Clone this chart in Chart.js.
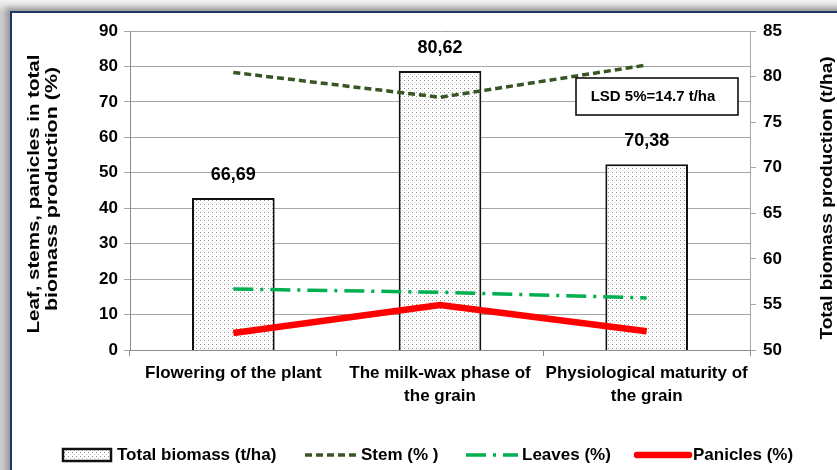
<!DOCTYPE html>
<html>
<head>
<meta charset="utf-8">
<script src="https://cdn.jsdelivr.net/npm/chart.js@4.4.1/dist/chart.umd.min.js"></script>
<style>
  html, body { margin: 0; padding: 0; }
  body { width: 837px; height: 470px; overflow: hidden; position: relative;
         background: linear-gradient(to bottom, #f4f4f4, #cccccc 12px); }
  #frame { position: absolute; left: 10px; top: 11px; width: 900px; height: 520px;
           background: #fff; border-left: 2px solid #1f3864; border-top: 2px solid #1f3864;
           box-shadow: -4px -3px 5px #9a9a9a; }
  #chart-biomass { position: absolute; left: 0; top: 0; }
</style>
</head>
<body>
<div id="frame"></div>
<canvas id="chart-biomass" width="837" height="470"></canvas>
<script>
// data
const phases = ['Flowering of the plant', ['The milk-wax phase of', 'the grain'], ['Physiological maturity of', 'the grain']];
const totalBiomass = [66.69, 80.62, 70.38];
const biomassLabels = ['66,69', '80,62', '70,38'];
const stem = [78.3, 71.3, 80.4];
const leaves = [17.2, 16.3, 14.7];
const panicles = [4.8, 12.7, 5.3];
const leftTitle = ['Leaf, stems, panicles in total', 'biomass production (%)'];
const rightTitle = 'Total biomass production (t/ha)';

const narrow = '"Liberation Sans Narrow", "Arial Narrow", "Liberation Sans", sans-serif';
const wide = '"Liberation Sans", Arial, sans-serif';

// dotted fill like the excel 5% pattern
function dotPattern() {
  const c = document.createElement('canvas');
  c.width = 4; c.height = 4;
  const p = c.getContext('2d');
  p.fillStyle = '#ffffff';
  p.fillRect(0, 0, 4, 4);
  p.fillStyle = '#8a8a8a';
  p.fillRect(0, 0, 1, 1);
  p.fillStyle = '#d0d0d0';
  p.fillRect(2, 2, 1, 1);
  return p.createPattern(c, 'repeat');
}
const dots = dotPattern();

// stretched vertical text, the titles in the picture are wider than the font
function vertText(ctx, text, x, y, stretch) {
  ctx.save();
  ctx.translate(x, y);
  ctx.rotate(-Math.PI / 2);
  ctx.scale(stretch, 1);
  ctx.fillText(text, 0, 0);
  ctx.restore();
}

const extras = {
  id: 'extras',
  afterDatasetsDraw(chart) {
    const ctx = chart.ctx;
    // value labels over the bars
    const meta = chart.getDatasetMeta(0);
    ctx.save();
    ctx.fillStyle = '#000';
    ctx.font = 'bold 18px ' + wide;
    ctx.textAlign = 'center';
    ctx.textBaseline = 'middle';
    meta.data.forEach((bar, i) => {
      ctx.fillText(biomassLabels[i], bar.x, bar.y - 23);
    });
    ctx.restore();
  },
  afterDraw(chart) {
    const ctx = chart.ctx;
    ctx.save();
    // LSD box
    ctx.fillStyle = '#fff';
    ctx.fillRect(576, 78, 162, 37);
    ctx.strokeStyle = '#000';
    ctx.lineWidth = 1.5;
    ctx.strokeRect(576, 78, 162, 37);
    ctx.fillStyle = '#000';
    ctx.font = 'bold 15px ' + narrow;
    ctx.textAlign = 'center';
    ctx.textBaseline = 'middle';
    ctx.fillText('LSD 5%=14.7 t/ha', 653, 97);

    // axis titles
    ctx.font = 'bold 16px ' + wide;
    vertText(ctx, leftTitle[0], 35, 194, 1.28);
    vertText(ctx, leftTitle[1], 53, 189, 1.34);
    vertText(ctx, rightTitle, 828, 198, 1.19);
    ctx.restore();

    // legend
    const ds = chart.data.datasets;
    const y = 455;
    ctx.save();
    ctx.font = 'bold 17px ' + narrow;
    ctx.textBaseline = 'middle';
    ctx.textAlign = 'left';
    ctx.fillStyle = dots;
    ctx.fillRect(63, 449, 48, 12);
    ctx.strokeStyle = '#111';
    ctx.lineWidth = 2.5;
    ctx.strokeRect(63, 449, 48, 12);
    ctx.fillStyle = '#000';
    ctx.fillText(ds[0].label, 117, y);
    const items = [[1, 305, 357], [2, 466, 518], [3, 637, 689]];
    items.forEach(([k, x0, x1]) => {
      ctx.beginPath();
      ctx.strokeStyle = ds[k].borderColor;
      ctx.lineWidth = ds[k].borderWidth;
      ctx.lineCap = k === 3 ? 'round' : 'butt';
      ctx.setLineDash(ds[k].borderDash || []);
      ctx.moveTo(x0, y);
      ctx.lineTo(x1, y);
      ctx.stroke();
      ctx.setLineDash([]);
      ctx.fillText(ds[k].label, x1 + 4, y);
    });
    ctx.restore();
  }
};

const ctx = document.getElementById('chart-biomass').getContext('2d');
const chart = new Chart(ctx, {
  data: {
    labels: phases,
    datasets: [
      {
        type: 'bar',
        label: 'Total biomass (t/ha)',
        data: totalBiomass,
        yAxisID: 'y1',
        backgroundColor: dots,
        borderColor: '#111',
        borderWidth: 2,
        categoryPercentage: 1,
        barPercentage: 0.4,
        order: 2
      },
      {
        type: 'line',
        label: 'Stem (% )',
        data: stem,
        yAxisID: 'y',
        borderColor: '#375623',
        borderWidth: 3.5,
        borderDash: [7, 4],
        pointRadius: 0,
        tension: 0,
        order: 1
      },
      {
        type: 'line',
        label: 'Leaves (%)',
        data: leaves,
        yAxisID: 'y',
        borderColor: '#00b050',
        borderWidth: 3.5,
        borderDash: [20, 7, 3, 7],
        pointRadius: 0,
        tension: 0,
        order: 1
      },
      {
        type: 'line',
        label: 'Panicles (%)',
        data: panicles,
        yAxisID: 'y',
        borderColor: '#ff0000',
        borderWidth: 6.5,
        pointRadius: 0,
        tension: 0,
        order: 0
      }
    ]
  },
  options: {
    responsive: false,
    animation: false,
    layout: { padding: { top: 31, left: 0, right: 0, bottom: 0 } },
    plugins: {
      legend: { display: false },
      tooltip: { enabled: false }
    },
    scales: {
      x: {
        type: 'category',
        offset: true,
        grid: { offset: true, drawOnChartArea: false, tickLength: 6, color: '#8c8c8c' },
        border: { color: '#8c8c8c' },
        ticks: { color: '#000', font: { family: narrow, size: 17, weight: 'bold', lineHeight: 1.35 }, padding: 6, maxRotation: 0 },
        afterFit(scale) { scale.height = 120; }
      },
      y: {
        position: 'left',
        min: 0,
        max: 90,
        ticks: { stepSize: 10, color: '#000', font: { family: narrow, size: 17, weight: 'bold' }, padding: 6 },
        grid: { color: '#a6a6a6', tickLength: 6 },
        border: { color: '#8c8c8c' },
        afterFit(scale) { scale.width = 130; }
      },
      y1: {
        position: 'right',
        min: 50,
        max: 85,
        ticks: { stepSize: 5, color: '#000', font: { family: narrow, size: 17, weight: 'bold' }, padding: 7 },
        grid: { drawOnChartArea: false, color: '#a6a6a6', tickLength: 6 },
        border: { color: '#a6a6a6' },
        afterFit(scale) { scale.width = 87; }
      }
    }
  },
  plugins: [extras]
});
</script>
</body>
</html>
